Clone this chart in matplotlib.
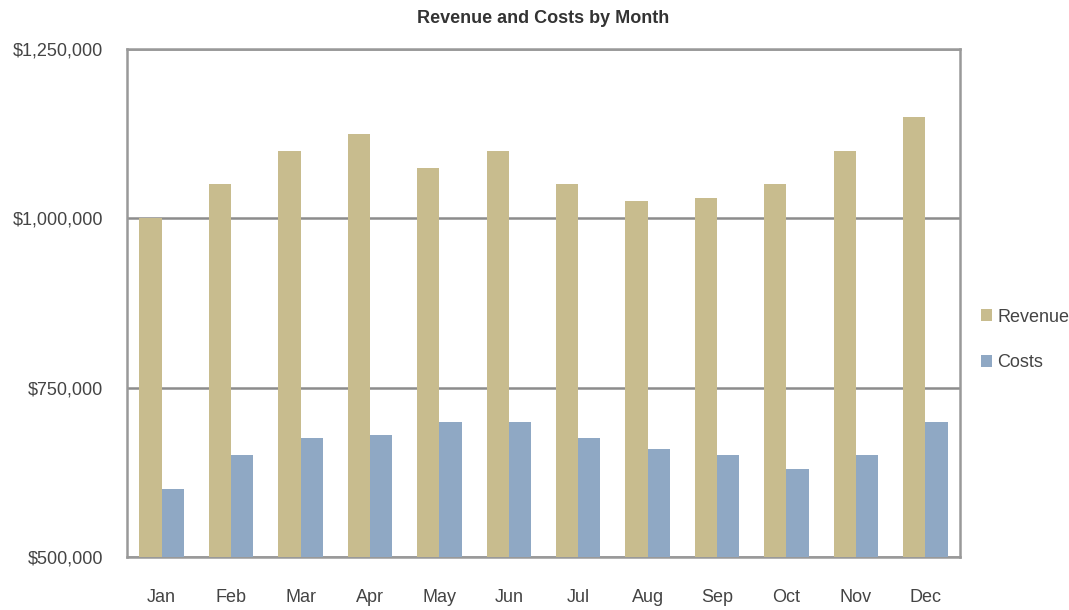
import matplotlib.pyplot as plt
from matplotlib.ticker import FuncFormatter
import numpy as np

months = ['Jan', 'Feb', 'Mar', 'Apr', 'May', 'Jun',
          'Jul', 'Aug', 'Sep', 'Oct', 'Nov', 'Dec']
revenue = [1000000, 1050000, 1100000, 1125000, 1075000, 1100000,
           1050000, 1025000, 1030000, 1050000, 1100000, 1150000]
costs = [600000, 650000, 675000, 680000, 700000, 700000,
         675000, 660000, 650000, 630000, 650000, 700000]


def dollar_formatter(y, pos):
    return '${:,.0f}'.format(y)


plt.rcParams['font.family'] = ['Liberation Sans', 'DejaVu Sans']

fig = plt.figure(figsize=(10.69, 6.10), dpi=100)
ax = fig.add_axes([127 / 1069, 1 - 557 / 610, (960 - 127) / 1069, (557 - 49) / 610])

x = np.arange(len(months))
w = 0.32
ax.bar(x - w / 2, revenue, w, color='#c8bc8e', label='Revenue', zorder=3)
ax.bar(x + w / 2, costs, w, color='#8fa8c4', label='Costs', zorder=3)

ax.set_xlim(-0.5, len(months) - 0.5)
ax.set_ylim(500000, 1250000)
ax.set_yticks([500000, 750000, 1000000, 1250000])
ax.yaxis.set_major_formatter(FuncFormatter(dollar_formatter))
ax.set_xticks(x)
ax.set_xticklabels(months)
ax.grid(axis='y', color='#8c8c8c', linewidth=1.8, zorder=1)
for s in ax.spines.values():
    s.set_color('#999999')
    s.set_linewidth(1.8)
ax.tick_params(length=0, labelsize=13, labelcolor='#444444')
ax.tick_params(axis='x', pad=23)
ax.tick_params(axis='y', pad=17)

ax.set_title('Revenue and Costs by Month', fontsize=13, fontweight='bold',
             color='#333333', pad=19)

fig.legend(loc='center left', bbox_to_anchor=(965 / 1069, 1 - 340 / 610),
           frameon=False, fontsize=13, handlelength=0.6, handleheight=0.6,
           handletextpad=0.3, labelspacing=1.6, labelcolor='#444444')

fig.savefig('out.png', dpi=100)
